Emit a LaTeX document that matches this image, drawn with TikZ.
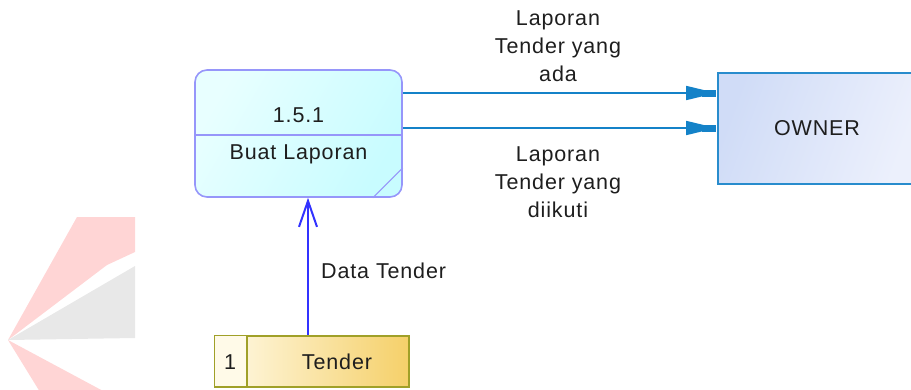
\documentclass[tikz,border=0pt]{standalone}
\usepackage{fontspec}
\setmainfont[LetterSpace=4]{Liberation Sans}
\usetikzlibrary{arrows.meta}
\definecolor{wmpink}{RGB}{255,213,213}
\definecolor{wmgrey}{RGB}{232,232,232}
\definecolor{procline}{RGB}{150,150,250}
\definecolor{procA}{RGB}{232,255,255}
\definecolor{procB}{RGB}{200,252,255}
\definecolor{flowc}{RGB}{20,130,200}
\definecolor{ownline}{RGB}{40,140,205}
\definecolor{ownA}{RGB}{208,220,247}
\definecolor{ownB}{RGB}{236,240,252}
\definecolor{dflowc}{RGB}{50,50,255}
\definecolor{storeline}{RGB}{160,160,40}
\definecolor{storeA}{RGB}{255,250,232}
\definecolor{storeB}{RGB}{245,208,105}
\definecolor{txtc}{RGB}{30,30,30}
\tikzset{
  txt/.style={font=\fontsize{21.5}{28}\selectfont, text=txtc, inner sep=0pt},
  proc/.style={draw=procline, line width=1.6pt, rounded corners=12pt,
    left color=procA, right color=procB, shading angle=60,
    minimum width=207pt, minimum height=127pt, inner sep=0pt},
  owner/.style={draw=ownline, line width=1.6pt, left color=ownA, right color=ownB,
    shading angle=70, minimum width=198pt, minimum height=111pt, txt},
  store/.style={draw=storeline, line width=1.6pt, left color=storeA, right color=storeB,
    minimum width=194pt, minimum height=51pt, inner sep=0pt},
  flow/.style={draw=flowc, line width=1.6pt, -{Triangle[length=30pt,width=14pt]}, shorten >=1pt},
  dflow/.style={draw=dflowc, line width=2pt, -{Straight Barb[length=26pt,width=18pt,line width=2pt]}},
  lbl/.style={txt, align=center},
}
\begin{document}
\begin{tikzpicture}[x=1pt,y=-1pt]
\useasboundingbox (0,0) rectangle (911,389);
% watermark
\fill[wmpink] (8,340) -- (77,217) -- (135,217) -- (135,252) -- (107,265) -- cycle;
\fill[wmgrey] (8,340) -- (135,266) -- (135,338) -- cycle;
\fill[wmpink] (8,340) -- (105,392) -- (40,392) -- cycle;
% process
\node[proc] (p) at (298.5,133.5) {};
\draw[procline, line width=1.4pt] (p.west |- 0,135) -- (p.east |- 0,135);
\draw[procline, line width=1.2pt] ([xshift=-30pt]p.south east) -- ([yshift=30pt]p.south east);
\node[txt] (pid) at (298.5,115) {1.5.1};
\node[txt] (pname) at (298.5,154) {Buat Laporan};
% owner
\node[owner] (o) at (817,128.5) {OWNER};
% flows
\coordinate (e1) at (o.west |- 0,93);
\coordinate (e2) at (o.west |- 0,128);
\draw[flow] (p.east |- 0,93) -- (e1);
\draw[flow] (p.east |- 0,128) -- (e2);
\fill[flowc] ([xshift=-15pt,yshift=-3.5pt]e1) rectangle ([xshift=-1pt,yshift=3.5pt]e1);
\fill[flowc] ([xshift=-15pt,yshift=-3.5pt]e2) rectangle ([xshift=-1pt,yshift=3.5pt]e2);
\node[lbl] (l1) at (558,46) {Laporan\\Tender yang\\ada};
\node[lbl] (l2) at (558,182) {Laporan\\Tender yang\\diikuti};
% store
\node[store] (s) at (312,361.5) {};
\fill[storeA] ([xshift=0.8pt,yshift=-0.8pt]s.north west) rectangle (247,386.2);
\draw[storeline, line width=1.6pt] (s.north west -| 247,0) -- (s.south west -| 247,0);
\node[txt] (snum) at (230,362) {1};
\node[txt] (sname) at (337,362) {Tender};
% data flow
\draw[dflow] (s.north -| 308,0) -- (p.south -| 308,0);
\node[txt, anchor=west] (dl) at (321,271) {Data Tender};
\end{tikzpicture}
\end{document}
